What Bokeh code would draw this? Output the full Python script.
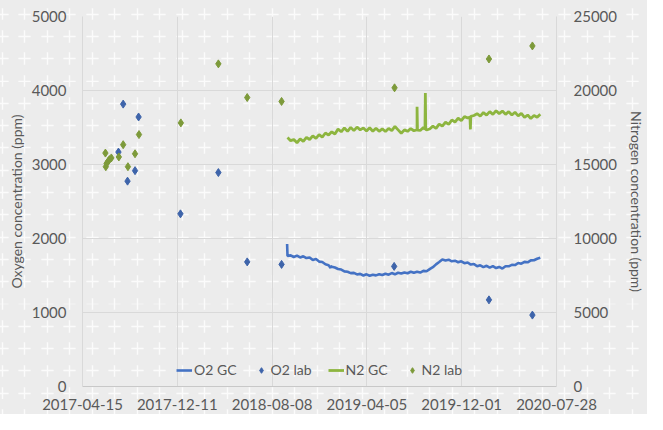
import urllib.parse
import pandas as pd
from bokeh.plotting import figure
from bokeh.models import (LinearAxis, Range1d, FixedTicker, DatetimeTickFormatter,
                          Legend, LegendItem)
from bokeh.embed import file_html
from bokeh.resources import INLINE

# ---------------- data ----------------
x_ticks = ["2017-04-15", "2017-12-11", "2018-08-08", "2019-04-05", "2019-12-01", "2020-07-28"]
o2_ticks = [0, 1000, 2000, 3000, 4000, 5000]
n2_ticks = [0, 5000, 10000, 15000, 20000, 25000]

o2_lab_dates = ["2017-07-15", "2017-07-27", "2017-08-07", "2017-08-26", "2017-09-04",
                "2017-12-19", "2018-03-25", "2018-06-06", "2018-09-01", "2019-06-13",
                "2020-02-08", "2020-05-28"]
o2_lab_vals = [3168, 3816, 2775, 2917, 3642, 2333, 2891, 1684, 1650, 1623, 1171, 965]

n2_lab_dates = ["2017-06-12", "2017-06-13", "2017-06-15", "2017-06-19", "2017-06-22",
                "2017-06-27", "2017-07-16", "2017-07-27", "2017-08-08", "2017-08-26",
                "2017-09-05", "2017-12-20", "2018-03-25", "2018-06-06", "2018-09-01",
                "2019-06-14", "2020-02-08", "2020-05-28"]
n2_lab_vals = [15772, 14851, 15068, 15220, 15331, 15443, 15509, 16338, 14851, 15726,
               17022, 17812, 21800, 19523, 19260, 20181, 22130, 23010]

# GC readings every 8 days from gc_start, plus a few single-day readings (spikes)
gc_start = "2018-09-16"
o2_gc_vals = [1765, 1772, 1750, 1768, 1744, 1760, 1736, 1744, 1710, 1722,
              1688, 1682, 1652, 1640, 1618, 1608, 1588, 1580, 1556, 1550,
              1532, 1536, 1514, 1522, 1500, 1516, 1497, 1510, 1502, 1518,
              1506, 1524, 1511, 1533, 1516, 1537, 1526, 1541, 1530, 1551,
              1536, 1550, 1540, 1563, 1557, 1586, 1612, 1650, 1682, 1716,
              1704, 1714, 1692, 1700, 1679, 1692, 1666, 1676, 1648, 1656,
              1624, 1638, 1613, 1631, 1606, 1626, 1601, 1616, 1594, 1626,
              1624, 1644, 1641, 1669, 1659, 1684, 1679, 1704, 1706, 1726, 1740]
o2_gc_extra_dates = ["2018-09-15", "2019-01-03", "2019-01-04"]
o2_gc_extra_vals = [1925, 1600, 1630]

n2_gc_vals = [16820, 16610, 16690, 16470, 16730, 16560, 16830, 16690, 16940, 16770,
              17020, 16850, 17130, 16990, 17210, 17060, 17390, 17210, 17470, 17240,
              17510, 17290, 17530, 17340, 17470, 17270, 17480, 17250, 17450, 17240,
              17410, 17230, 17440, 17290, 17570, 17340, 17110, 17340, 17240, 17430,
              17280, 17410, 17300, 17500, 17330, 17400, 17590, 17440, 17730, 17590,
              17860, 17710, 18010, 17870, 18130, 17970, 18240, 18140, 18250, 18310,
              18430, 18270, 18510, 18340, 18570, 18390, 18630, 18440, 18610, 18390,
              18570, 18340, 18530, 18290, 18460, 18190, 18340, 18110, 18310, 18190, 18400]
n2_gc_extra_dates = ["2019-08-09", "2019-08-10", "2019-08-11",
                     "2019-08-30", "2019-08-31", "2019-09-01",
                     "2019-12-22", "2019-12-23", "2019-12-24"]
n2_gc_extra_vals = [17330, 18905, 17330, 17380, 19826, 17380, 18200, 17371, 18250]

# ---------------- styling ----------------
FONT = "Lato"
TXT = "#595959"
GRID = "#D9D9D9"
O2_LINE = "#4472C4"
O2_MARK = "#3E64AA"
N2_LINE = "#8DB53F"
N2_MARK = "#7D9A3A"


def ms(s):
    return (pd.Timestamp(s) - pd.Timestamp("1970-01-01")) // pd.Timedelta("1ms")


def series(start, vals, extra_dates, extra_vals):
    d = list(pd.date_range(start, periods=len(vals), freq="8D")) + list(pd.to_datetime(extra_dates))
    df = pd.DataFrame({"x": d, "y": list(vals) + list(extra_vals)}).sort_values("x")
    return df["x"], df["y"]


tick_ms = [ms(t) for t in x_ticks]

p = figure(width=647, height=414, x_axis_type="datetime",
           x_range=Range1d(tick_ms[0], tick_ms[-1]),
           y_range=Range1d(o2_ticks[0], o2_ticks[-1]),
           output_backend="svg", toolbar_location=None,
           min_border_left=82, min_border_right=86, min_border_top=16, min_border_bottom=28)
p.extra_y_ranges = {"n2": Range1d(n2_ticks[0], n2_ticks[-1])}

p.background_fill_alpha = 0
p.border_fill_alpha = 0
p.outline_line_color = None

svg = ("<svg xmlns='http://www.w3.org/2000/svg' width='22.5' height='22.3'>"
       "<path d='M11.25 5.2v12M5.25 11.15h12' stroke='white' stroke-width='1.4' stroke-opacity='0.8'/></svg>")
uri = "data:image/svg+xml," + urllib.parse.quote(svg)
p.styles = {"background-color": "#ECECEC",
            "background-image": f'url("{uri}")',
            "background-size": "22.5px 22.3px",
            "background-position": "-9px 3px"}

# glyphs
ox, oy = series(gc_start, o2_gc_vals, o2_gc_extra_dates, o2_gc_extra_vals)
nx, ny = series(gc_start, n2_gc_vals, n2_gc_extra_dates, n2_gc_extra_vals)
r_o2gc = p.line(ox, oy, line_color=O2_LINE, line_width=2.6)
r_o2lab = p.scatter(pd.to_datetime(o2_lab_dates), o2_lab_vals, marker="diamond",
                    size=8, fill_color=O2_MARK, line_color=O2_MARK)
r_n2gc = p.line(nx, ny, line_color=N2_LINE, line_width=2.8, y_range_name="n2")
r_n2lab = p.scatter(pd.to_datetime(n2_lab_dates), n2_lab_vals, marker="diamond",
                    size=8, fill_color=N2_MARK, line_color=N2_MARK, y_range_name="n2")

# axes
xa = p.xaxis[0]
xa.ticker = FixedTicker(ticks=tick_ms)
fmt = "%Y-%m-%d"
xa.formatter = DatetimeTickFormatter(days=fmt, months=fmt, years=fmt, hours=fmt,
                                     minutes=fmt, seconds=fmt, milliseconds=fmt,
                                     microseconds=fmt, hourmin=fmt, minsec=fmt)
ya = p.yaxis[0]
ya.ticker = FixedTicker(ticks=o2_ticks)
ya.axis_label = "Oxygen concentration (ppm)"

ra = LinearAxis(y_range_name="n2", ticker=FixedTicker(ticks=n2_ticks),
                axis_label="Nitrogen concentration (ppm)")
p.add_layout(ra, "right")

for ax in [xa, ya, ra]:
    ax.major_tick_line_color = None
    ax.minor_tick_line_color = None
    ax.axis_line_color = GRID
    ax.major_label_text_font = FONT
    ax.major_label_text_font_size = "15px"
    ax.major_label_text_color = TXT
    ax.axis_label_text_font = FONT
    ax.axis_label_text_font_size = "14px"
    ax.axis_label_text_color = TXT
    ax.axis_label_text_font_style = "normal"
xa.axis_line_color = "#C8C8C8"
xa.major_label_standoff = 6
ya.major_label_standoff = 10
ra.major_label_standoff = 11
ya.axis_label_standoff = 4
ra.axis_label_standoff = 8

p.xgrid.grid_line_color = GRID
p.ygrid.grid_line_color = GRID
p.ygrid.ticker = FixedTicker(ticks=o2_ticks)

legend = Legend(items=[LegendItem(label="O2 GC", renderers=[r_o2gc]),
                       LegendItem(label="O2 lab", renderers=[r_o2lab]),
                       LegendItem(label="N2 GC", renderers=[r_n2gc]),
                       LegendItem(label="N2 lab", renderers=[r_n2lab])],
                orientation="horizontal", location="bottom_center",
                background_fill_alpha=0, border_line_color=None,
                label_text_font=FONT, label_text_font_size="14px", label_text_color=TXT,
                glyph_width=16, glyph_height=14, label_standoff=2, spacing=16,
                margin=8, padding=4)
p.add_layout(legend, "center")

open("out.html", "w").write(file_html(p, INLINE))
